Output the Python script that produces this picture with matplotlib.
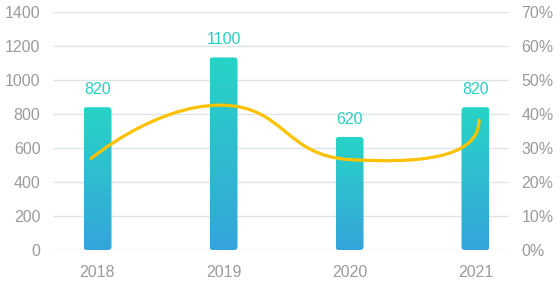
import numpy as np
import matplotlib
matplotlib.use("Agg")
import matplotlib.pyplot as plt
from matplotlib.patches import FancyBboxPatch, PathPatch
from matplotlib.path import Path
from matplotlib.colors import LinearSegmentedColormap

categories = ["2018", "2019", "2020", "2021"]
bar_heights = [840, 1133, 665, 840]
bar_labels = ["820", "1100", "620", "820"]
rate_pct = [26.9, 42.6, 26.6, 38.2]
left_ticks = [0, 200, 400, 600, 800, 1000, 1200, 1400]
right_ticks = [0, 10, 20, 30, 40, 50, 60, 70]

plt.rcParams['font.family'] = ['Liberation Sans', 'DejaVu Sans']

W, H = 560, 285
fig = plt.figure(figsize=(W / 100, H / 100), dpi=100)
ax_l, ax_r, ax_b, ax_t = 53, 509, 250, 12
pos = [ax_l / W, (H - ax_b) / H, (ax_r - ax_l) / W, (ax_b - ax_t) / H]
ax = fig.add_axes(pos)

x = np.arange(len(categories))
px_per_unit = 126.0
xlim = (-(97.5 - ax_l) / px_per_unit, 3 + (ax_r - 475.5) / px_per_unit)
ax.set_xlim(*xlim)
ax.set_ylim(0, 1400)
ax.set_yticks(left_ticks)
ax.set_yticklabels([str(t) for t in left_ticks])
ax.set_xticks(x)
ax.set_xticklabels(categories)
for s in ax.spines.values():
    s.set_visible(False)
ax.tick_params(axis='both', length=0, colors='#9b9b9b', labelsize=11.5)
ax.tick_params(axis='y', pad=9)
ax.tick_params(axis='x', pad=11)
ax.grid(axis='y', color='#dfe4e8', linewidth=1)
ax.set_axisbelow(True)

bar_w = 28 / px_per_unit
bars = ax.bar(x, bar_heights, width=bar_w, color='none', edgecolor='none')
cmap = LinearSegmentedColormap.from_list('g', ['#35a4db', '#27d4c6'])
grad = np.linspace(0, 1, 256).reshape(-1, 1)
ypx = 1400 / (ax_b - ax_t)
xpx = 1 / px_per_unit
aspect = ypx / xpx
r = 3.5 * xpx
for b, lab in zip(bars, bar_labels):
    x0, w, h = b.get_x(), b.get_width(), b.get_height()
    patch = FancyBboxPatch((x0, 0), w, h, boxstyle=f"round,pad=0,rounding_size={r}",
                           mutation_aspect=aspect, facecolor='none', edgecolor='none')
    ax.add_patch(patch)
    im = ax.imshow(grad, cmap=cmap, origin='lower', extent=[x0, x0 + w, 0, h],
                   aspect='auto', zorder=2, interpolation='bilinear')
    im.set_clip_path(patch)
    ax.text(x0 + w / 2, h + 10 * ypx, lab, ha='center', va='bottom',
            color='#2bcfc3', fontsize=11.5)
ax.set_xlim(*xlim)
ax.set_ylim(0, 1400)

# right axis (line) on overlaid axes
ax2 = fig.add_axes(pos, frameon=False)
lpx = (479 - 91) / 3
ax2.set_xlim(-(91 - ax_l) / lpx, 3 + (ax_r - 479) / lpx)
ax2.set_ylim(0, 70)
ax2.yaxis.tick_right()
ax2.set_yticks(right_ticks)
ax2.set_yticklabels([f"{t}%" for t in right_ticks])
ax2.set_xticks([])
ax2.tick_params(axis='y', length=0, colors='#9b9b9b', labelsize=11.5, pad=9)

# smooth bezier computed in pixel space (y up)
sx, sy = lpx, (ax_b - ax_t) / 70
P = np.array([[xi * sx, yi * sy] for xi, yi in zip(x, rate_pct)])
smooth = 0.5
end_handle = 40.0  # px, vertical end tangent
n = len(P)
cps = []
for i in range(n):
    if i == 0:
        cps.append((P[i].copy(), P[i].copy()))
        continue
    if i == n - 1:
        cps.append((P[i] + np.array([0.0, -end_handle]), P[i].copy()))
        continue
    prev, nxt = P[i - 1], P[i + 1]
    v = nxt - prev
    d0 = np.linalg.norm(P[i] - prev)
    d1 = np.linalg.norm(nxt - P[i])
    ratio = d1 / (d0 + d1)
    c_in = P[i] - v * smooth * (1 - ratio)
    c_out = P[i] + v * smooth * ratio
    cps.append((c_in, c_out))
verts = [P[0]]
codes = [Path.MOVETO]
for i in range(n - 1):
    verts += [cps[i][1], cps[i + 1][0], P[i + 1]]
    codes += [Path.CURVE4] * 3
verts = np.array(verts) / np.array([sx, sy])
path = Path(verts, codes)
ax2.add_patch(PathPatch(path, facecolor='none', edgecolor='#fcc100', linewidth=2.3,
                        capstyle='round', zorder=5))

fig.savefig("out.png", dpi=100)
